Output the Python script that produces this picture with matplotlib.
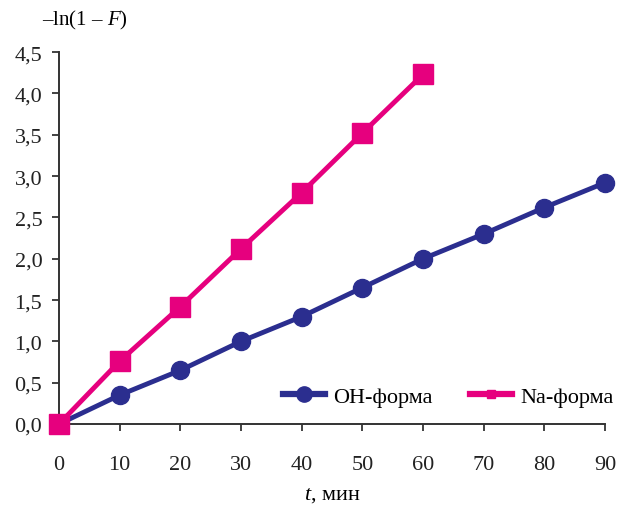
import matplotlib.pyplot as plt
from matplotlib.lines import Line2D

# data
t = [0, 10, 20, 30, 40, 50, 60, 70, 80, 90]
oh_form = [0.0, 0.35, 0.65, 1.0, 1.3, 1.65, 2.0, 2.3, 2.62, 2.92]
t_na = [0, 10, 20, 30, 40, 50, 60]
na_form = [0.0, 0.76, 1.42, 2.12, 2.8, 3.52, 4.23]
yticks = [0.0, 0.5, 1.0, 1.5, 2.0, 2.5, 3.0, 3.5, 4.0, 4.5]

plt.rcParams['font.family'] = ['Liberation Serif', 'DejaVu Serif']
plt.rcParams['mathtext.fontset'] = 'custom'
plt.rcParams['mathtext.it'] = 'Liberation Serif:italic'
plt.rcParams['mathtext.rm'] = 'Liberation Serif'

fig = plt.figure(figsize=(6.17, 5.06), dpi=100)
ax = fig.add_axes([0.0956, 0.160, 0.885, 0.735])

navy = '#2B2E8F'
pink = '#E6007E'

ax.plot(t, oh_form, color=navy, lw=3.5, marker='o', markersize=13,
        clip_on=False, zorder=3)
ax.plot(t_na, na_form, color=pink, lw=3.5, marker='s', markersize=14,
        clip_on=False, zorder=4)

ax.set_xlim(0, 90)
ax.set_ylim(0, 4.5)
ax.set_xticks(t)
ax.set_yticks(yticks)
ax.set_yticklabels([f"{v:.1f}".replace('.', ',') for v in yticks])
ax.tick_params(axis='both', labelsize=16, length=5, width=1.2, direction='out',
               colors='#222222')
ax.tick_params(axis='x', pad=17)
ax.tick_params(axis='y', pad=7)

for s in ['top', 'right']:
    ax.spines[s].set_visible(False)
for s in ['left', 'bottom']:
    ax.spines[s].set_linewidth(1.4)
    ax.spines[s].set_color('#333333')

ax.set_xlabel('$t$, мин', fontsize=16, labelpad=8)
fig.text(0.068, 0.960, r'–ln(1 – $F$)', fontsize=15, ha='left', va='center')

handles = [
    Line2D([], [], color=navy, lw=4.5, marker='o', markersize=11),
    Line2D([], [], color=pink, lw=4.5, marker='s', markersize=6),
]
ax.legend(handles, ['OH-форма', 'Na-форма'], loc='lower right',
          bbox_to_anchor=(1.04, 0.011), ncol=2, frameon=False,
          fontsize=16, handlelength=1.9, columnspacing=1.7, handletextpad=0.35,
          borderaxespad=0.2)

fig.savefig('out.png', dpi=100)
